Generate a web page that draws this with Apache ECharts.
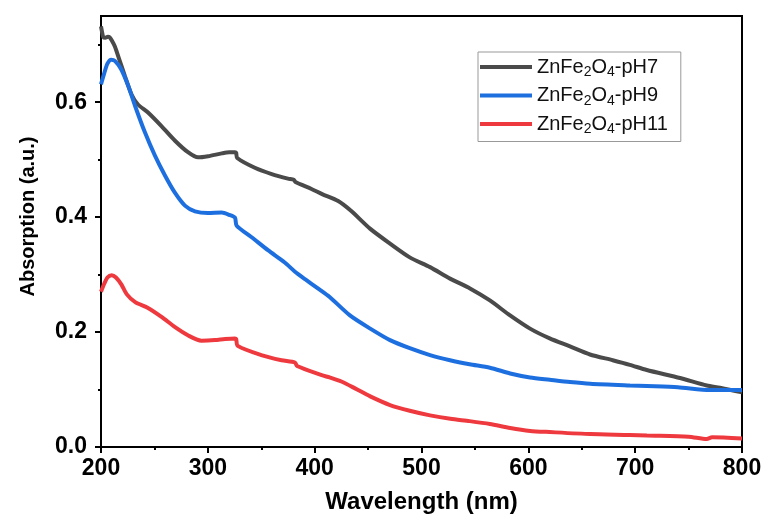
<!DOCTYPE html>
<html>
<head>
<meta charset="utf-8">
<script src="https://cdn.jsdelivr.net/npm/echarts@6/dist/echarts.min.js"></script>
<style>
html,body{margin:0;padding:0;background:#fff;}
#c{width:765px;height:519px;}
</style>
</head>
<body>
<div id="c"></div>
<script>
// ---- data ----
const seriesNames = ['pH7', 'pH9', 'pH11'];
const xTicks = [200, 300, 400, 500, 600, 700, 800];
const yTicks = [0.0, 0.2, 0.4, 0.6];
const yMinorTicks = [0.1, 0.3, 0.5, 0.7];

const pH7 = [
[200,0.732],[201,0.722],[202,0.714],[204,0.712],[206.5,0.714],[208,0.713],[210,0.708],[213,0.697],
[217,0.675],[222.5,0.645],[228.7,0.613],[234.6,0.596],[244,0.582],[256.8,0.558],[269.3,0.533],
[281.4,0.513],[290.8,0.504],[300.2,0.506],[313,0.511],[320,0.513],[325.4,0.513],[326.5,0.512],
[327.5,0.503],[344,0.486],[359.8,0.475],[375,0.467],[380.5,0.465],[382,0.461],[397,0.449],
[407,0.440],[422,0.428],[434,0.411],[451.8,0.380],[470.5,0.354],[489,0.330],[508,0.313],
[526.7,0.293],[545.4,0.276],[564,0.255],[582.9,0.229],[601.6,0.206],[620,0.189],[639,0.175],
[657.7,0.161],[679,0.151],[695,0.143],[710.8,0.134],[742,0.120],[767,0.107],[779.4,0.103],[800,0.095]
];
const pH9 = [
[200,0.631],[203,0.650],[206,0.667],[209.5,0.674],[213,0.672],[219,0.657],[225.6,0.628],[232,0.593],
[241,0.548],[250.5,0.507],[260,0.472],[269,0.443],[278.6,0.420],[288,0.410],[300,0.407],[313,0.408],
[320,0.404],[325.4,0.399],[327,0.385],[341,0.365],[356.6,0.342],[372,0.321],[381.6,0.305],[391,0.292],
[403,0.276],[414,0.261],[433,0.229],[452,0.206],[470.5,0.186],[489,0.172],[508,0.160],[526.7,0.151],
[545,0.144],[564,0.138],[583,0.128],[601.6,0.121],[620,0.117],[639,0.113],[658,0.110],[695,0.107],
[711,0.106],[740,0.104],[770,0.099],[800,0.099]
];
const pH11 = [
[200,0.270],[203,0.284],[206,0.295],[210,0.299],[214,0.295],[219,0.283],[224,0.266],
[232,0.252],[244,0.242],[257,0.226],[269,0.209],[281.7,0.194],[294,0.185],[306.7,0.186],[316,0.188],
[325.4,0.189],[326.5,0.188],[328,0.176],[350,0.160],[369,0.151],[381.6,0.147],[383.5,0.141],
[406.6,0.125],[414,0.121],[425,0.114],[437.8,0.102],[452,0.088],[470.5,0.073],[489,0.063],
[508,0.055],[527,0.049],[545,0.045],[564,0.040],[583,0.033],[601.6,0.028],[620,0.026],[658,0.0225],
[695,0.021],[711,0.020],[750,0.018],[767,0.014],[772,0.017],[800,0.015]
];
const seriesData = [pH7, pH9, pH11];
const colors = ['#4a4a4a', '#1d6fe0', '#ee3a3f'];

const FONT = '"Liberation Sans", Arial, sans-serif';

const chart = echarts.init(document.getElementById('c'), null, {renderer: 'canvas'});
const option = {
  animation: false,
  backgroundColor: '#fff',
  grid: {left: 101, right: 23, top: 16, bottom: 69, show: true, borderColor: '#000', borderWidth: 2, backgroundColor: 'transparent'},
  legend: {
    orient: 'vertical',
    left: 478, top: 52,
    itemWidth: 52, itemHeight: 4, itemGap: 6,
    icon: 'rect',
    padding: [5, 13, 5, 2],
    borderColor: '#999', borderWidth: 1,
    backgroundColor: '#fff',
    data: seriesNames,
    formatter: n => 'ZnFe{sub|2}O{sub|4}-' + n,
    textStyle: {
      fontFamily: FONT, fontSize: 20, color: '#111',
      rich: {sub: {fontFamily: FONT, fontSize: 14, color: '#111', verticalAlign: 'bottom', padding: [11, 0, 0, 0]}}
    }
  },
  xAxis: {
    type: 'value', min: 200, max: 800, interval: 100,
    name: 'Wavelength (nm)', nameLocation: 'middle', nameGap: 43,
    nameTextStyle: {fontFamily: FONT, fontSize: 24, fontWeight: 'bold', color: '#000'},
    axisLine: {show: true, onZero: false, lineStyle: {color: '#000', width: 2}},
    axisTick: {show: true, inside: false, length: 6, lineStyle: {color: '#000', width: 2}},
    minorTick: {show: true, splitNumber: 2, length: 3, lineStyle: {color: '#000', width: 2}},
    axisLabel: {fontFamily: FONT, fontSize: 23, fontWeight: 'bold', color: '#000', margin: 10,
      customValues: xTicks, formatter: v => String(v)},
    splitLine: {show: false}
  },
  yAxis: [{
    type: 'value', min: 0, max: 0.75, interval: 0.2,
    name: 'Absorption (a.u.)', nameLocation: 'middle', nameGap: 63, nameRotate: 90,
    nameTextStyle: {fontFamily: FONT, fontSize: 20, fontWeight: 'bold', color: '#000', padding: [0, 0, 0, 30]},
    axisLine: {show: true, onZero: false, lineStyle: {color: '#000', width: 2}},
    axisTick: {show: true, inside: false, length: 6, customValues: yTicks, lineStyle: {color: '#000', width: 2}},
    axisLabel: {fontFamily: FONT, fontSize: 23, fontWeight: 'bold', color: '#000', margin: 14,
      customValues: yTicks, formatter: v => v.toFixed(1)},
    splitLine: {show: false}
  }, {
    type: 'value', min: 0, max: 0.75, position: 'left',
    axisLine: {show: false},
    axisTick: {show: true, inside: false, length: 3, customValues: yMinorTicks, lineStyle: {color: '#000', width: 2}},
    axisLabel: {show: false},
    splitLine: {show: false}
  }],
  series: seriesNames.map((n, i) => ({
    name: n, type: 'line', data: seriesData[i], yAxisIndex: 0,
    symbol: 'none', smooth: 0.25,
    lineStyle: {color: colors[i], width: 4},
    itemStyle: {color: colors[i]}
  }))
};
chart.setOption(option);
</script>
</body>
</html>
